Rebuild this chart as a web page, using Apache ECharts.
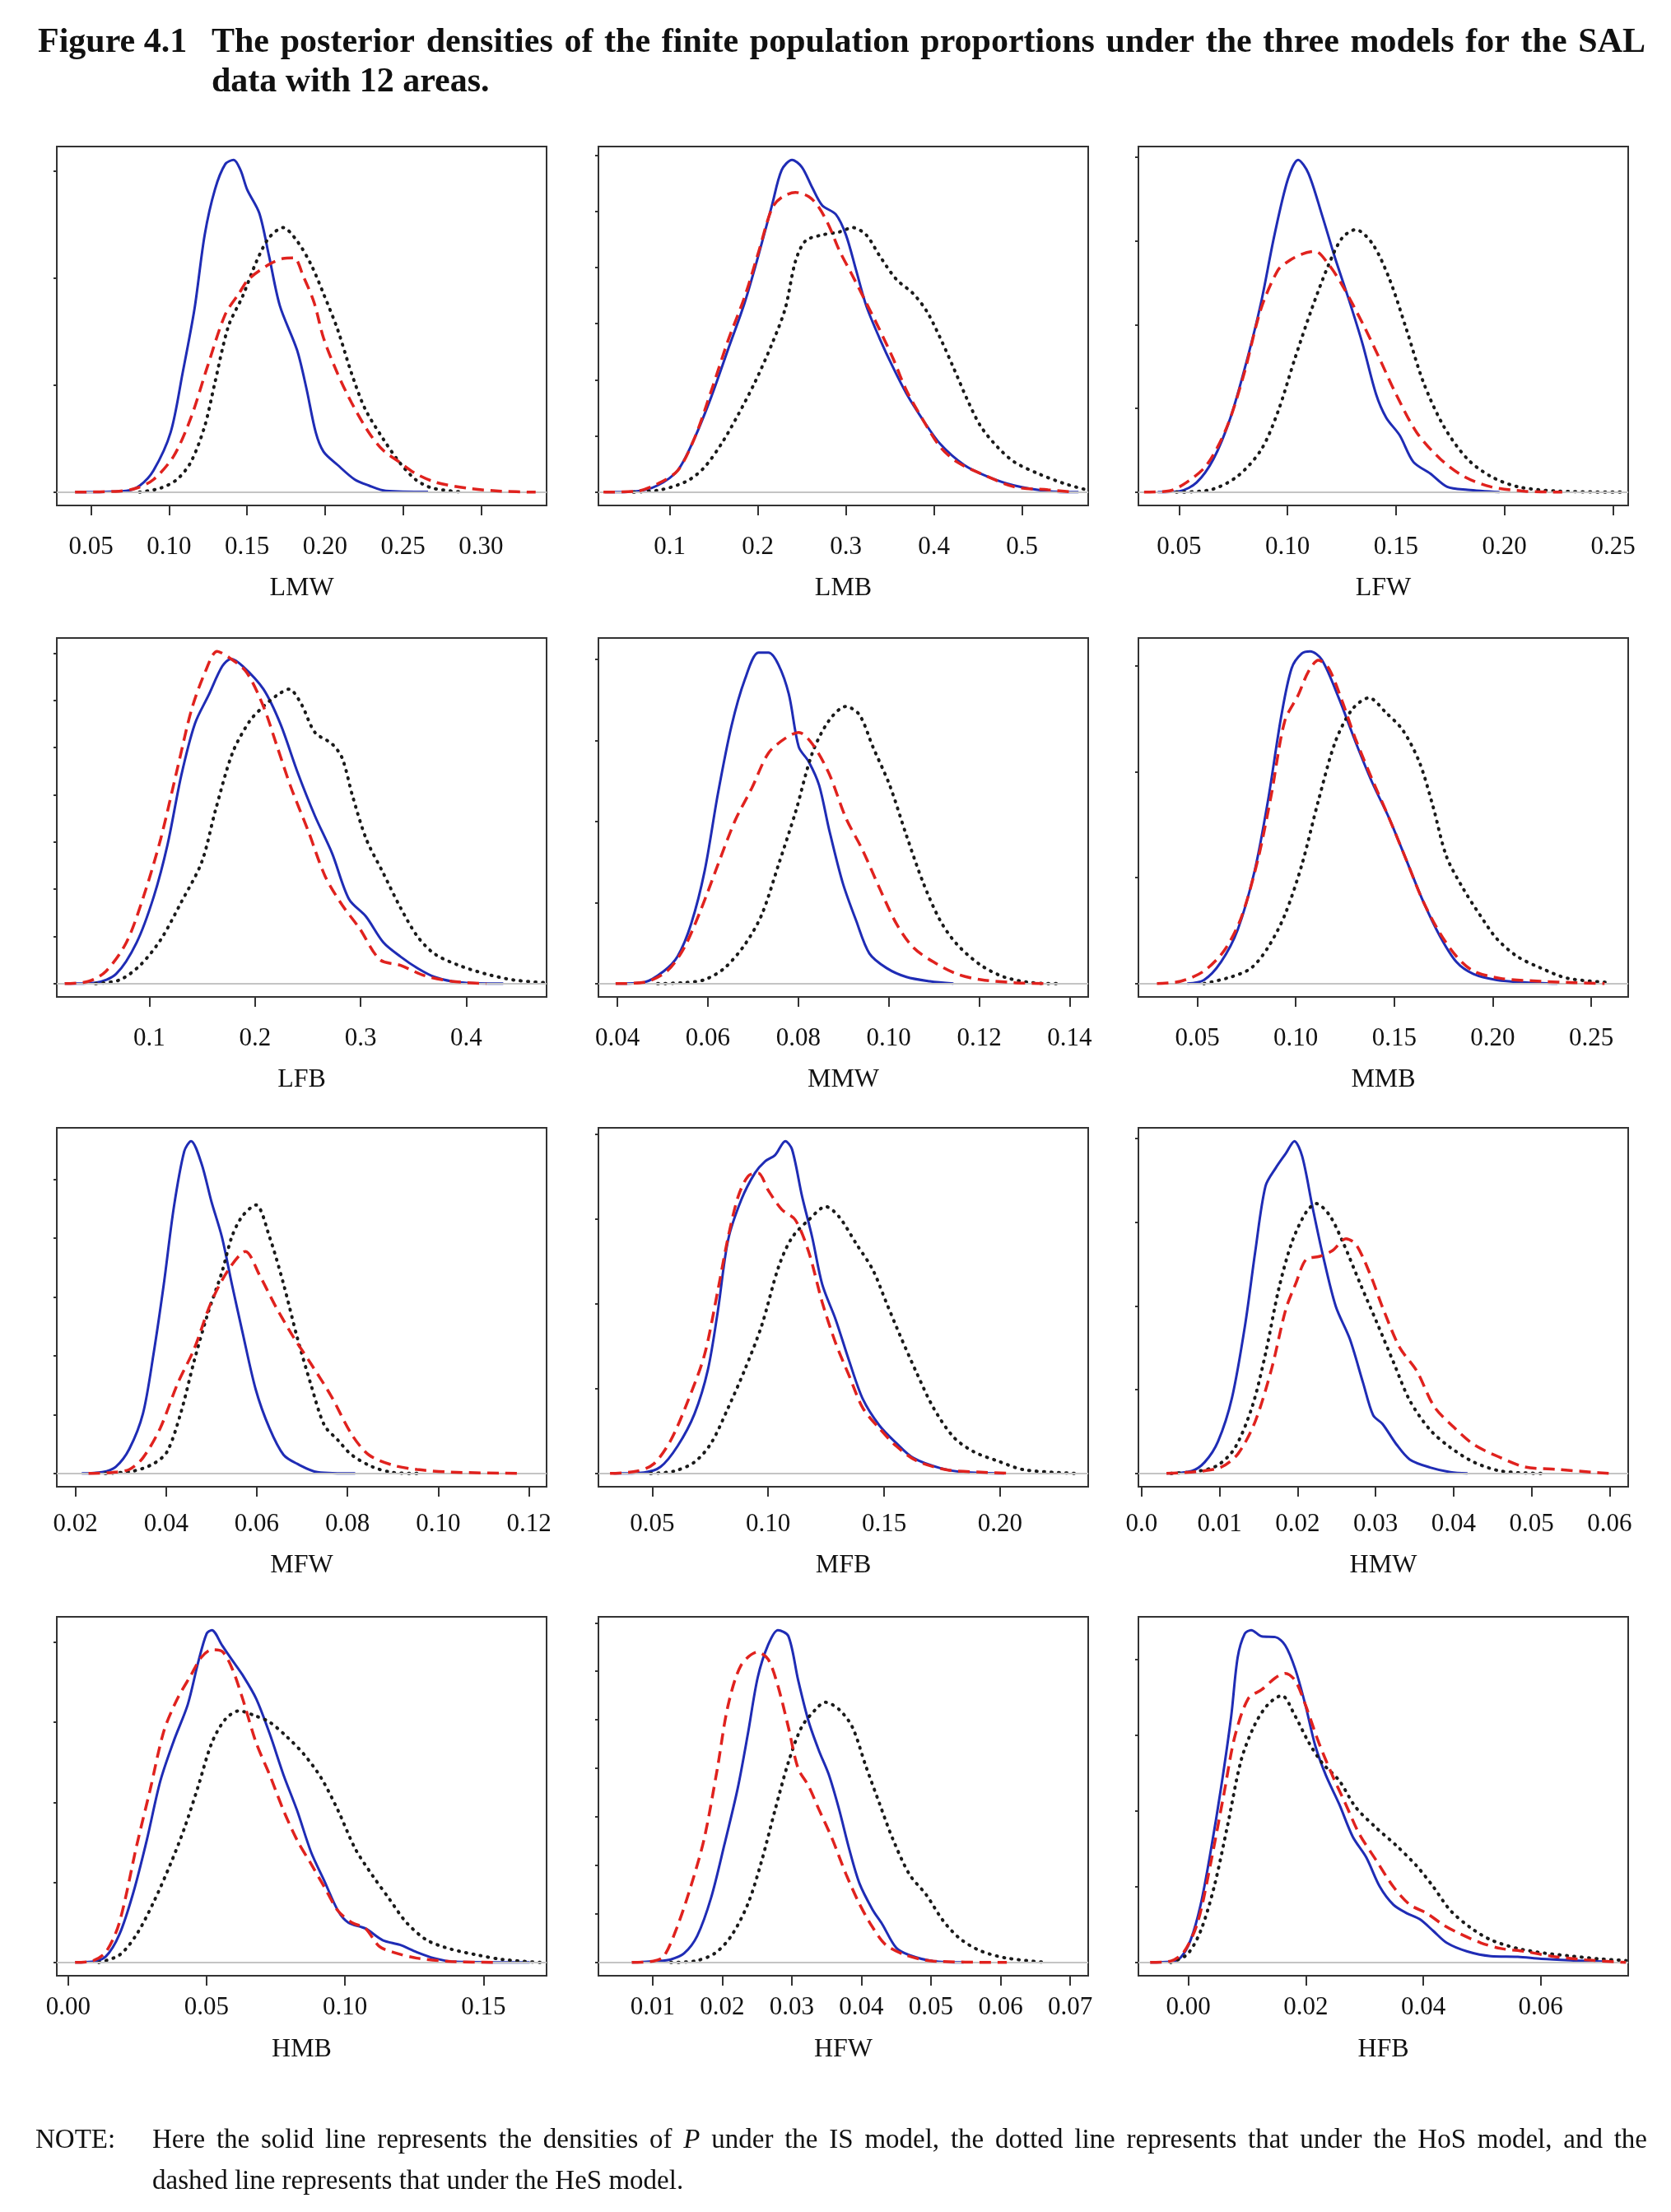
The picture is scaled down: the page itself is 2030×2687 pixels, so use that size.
<!DOCTYPE html>
<html>
<head>
<meta charset="utf-8">
<script src="https://cdn.jsdelivr.net/npm/echarts@6/dist/echarts.min.js"></script>
<style>
html, body { margin: 0; padding: 0; background: #fff; }
#main { width: 2030px; height: 2687px; }
</style>
</head>
<body>
<div id="main"></div>
<script>
// panel titles (x axis names)
const panelNames = ['LMW', 'LMB', 'LFW', 'LFB', 'MMW', 'MMB', 'MFW', 'MFB', 'HMW', 'HMB', 'HFW', 'HFB'];

// x tick labels per panel
const xTickLabels = [
    ['0.05', '0.10', '0.15', '0.20', '0.25', '0.30'],
    ['0.1', '0.2', '0.3', '0.4', '0.5'],
    ['0.05', '0.10', '0.15', '0.20', '0.25'],
    ['0.1', '0.2', '0.3', '0.4'],
    ['0.04', '0.06', '0.08', '0.10', '0.12', '0.14'],
    ['0.05', '0.10', '0.15', '0.20', '0.25'],
    ['0.02', '0.04', '0.06', '0.08', '0.10', '0.12'],
    ['0.05', '0.10', '0.15', '0.20'],
    ['0.0', '0.01', '0.02', '0.03', '0.04', '0.05', '0.06'],
    ['0.00', '0.05', '0.10', '0.15'],
    ['0.01', '0.02', '0.03', '0.04', '0.05', '0.06', '0.07'],
    ['0.00', '0.02', '0.04', '0.06']
];

// x axis range per panel
const xMins = [0.028, 0.019, 0.0313, 0.0124, 0.0358, 0.0201, 0.0159, 0.0268, -0.0004, -0.0041, 0.0022, -0.0085];
const xMaxs = [0.342, 0.575, 0.257, 0.476, 0.1441, 0.2688, 0.1239, 0.238, 0.0624, 0.1728, 0.0726, 0.0749];

// spacing of the unlabeled density ticks (tallest peak = 100)
const yTickSteps = [32.2, 16.9, 25.2, 14.2, 24.4, 31.9, 17.7, 25.5, 25.2, 24.1, 14.6, 22.8];

// densities: IS (solid), HoS (dotted), HeS (dashed)
const lmwIS = [[0.0397,0],[0.0725,0.4],[0.0813,2],[0.090,6.5],[0.101,18],[0.1086,35.7],[0.1163,55.2],[0.1228,77.4],[0.1294,91.1],[0.136,98.7],[0.1414,100],[0.1458,96.9],[0.150,91.1],[0.1578,84],[0.164,71.2],[0.171,56.1],[0.182,42.8],[0.188,31.3],[0.194,18],[0.199,12.2],[0.208,8.2],[0.219,3.8],[0.228,2],[0.239,0.4],[0.266,0.1]];
const lmwHoS = [[0.081,0],[0.0944,1.2],[0.105,3.8],[0.114,9.1],[0.1228,19.8],[0.129,32.2],[0.138,49.9],[0.147,58.8],[0.156,69.4],[0.164,76.5],[0.173,79.6],[0.182,75.6],[0.191,68.5],[0.199,59.7],[0.208,49],[0.217,35.7],[0.2256,25.1],[0.237,16.2],[0.2475,9.1],[0.258,3.8],[0.269,1.2],[0.289,0]];
const lmwHeS = [[0.0397,0],[0.068,0.3],[0.079,1.2],[0.090,3.8],[0.103,10.9],[0.114,22.4],[0.125,38.4],[0.136,53.5],[0.1447,59.7],[0.151,64.1],[0.164,68.5],[0.173,70.3],[0.180,70.5],[0.186,65],[0.193,57],[0.199,46.4],[0.208,35.7],[0.217,26.9],[0.228,18],[0.237,12.7],[0.2475,9.1],[0.258,5.6],[0.2715,2.9],[0.291,1.2],[0.313,0.3],[0.335,0]];

const lmbIS = [[0.0266,0],[0.0629,0.3],[0.0859,2],[0.1088,6.5],[0.128,16.2],[0.147,28.6],[0.166,42.8],[0.185,57],[0.2006,71.2],[0.216,86.3],[0.227,96.9],[0.2388,100],[0.250,97.8],[0.2618,91.6],[0.273,86.3],[0.2885,83.6],[0.300,77.4],[0.3115,66.8],[0.323,56.1],[0.338,46.4],[0.3535,37.5],[0.369,29.5],[0.388,21.5],[0.407,14.5],[0.434,8.2],[0.4606,4.7],[0.491,2],[0.5295,0.3],[0.564,0]];
const lmbHoS = [[0.059,0],[0.0897,0.7],[0.120,3.4],[0.139,7.4],[0.1585,14.5],[0.1776,23.3],[0.1967,33.1],[0.216,44.6],[0.231,55.2],[0.2426,69.4],[0.254,75.6],[0.273,77.4],[0.2923,78.3],[0.3077,79.6],[0.323,77.4],[0.338,71.2],[0.357,64.1],[0.3765,59.7],[0.392,54.3],[0.407,46.4],[0.422,37.5],[0.438,27.7],[0.453,19.8],[0.472,13.6],[0.491,9.1],[0.518,5.6],[0.549,2.5],[0.573,0.7]];
const lmbHeS = [[0.0247,0],[0.063,0.3],[0.086,2.5],[0.109,6.5],[0.128,16.2],[0.147,30.4],[0.166,45.5],[0.185,58.8],[0.2006,72.1],[0.216,85.4],[0.227,88.7],[0.2426,90.2],[0.258,88.9],[0.269,85.8],[0.281,80],[0.292,73],[0.3077,65],[0.323,57],[0.338,49],[0.3535,40.2],[0.369,30.4],[0.388,21.5],[0.407,13.6],[0.426,9.1],[0.453,5.6],[0.491,1.6],[0.5295,0.7],[0.560,0]];

const lfwIS = [[0.0402,0],[0.0503,0.3],[0.0581,2.9],[0.0659,10],[0.0737,22.4],[0.0815,40.2],[0.0878,57],[0.094,77.4],[0.1002,94.2],[0.1049,100],[0.1096,96],[0.1158,83.6],[0.122,70.3],[0.1283,57.9],[0.1346,44.6],[0.1408,29.5],[0.1455,22.4],[0.1517,17.1],[0.158,9.1],[0.1658,5.6],[0.1736,1.6],[0.183,0.7],[0.1977,0]];
const lfwHoS = [[0.0488,0],[0.0644,0.7],[0.0768,4.7],[0.0878,12.7],[0.0956,24.2],[0.1034,40.2],[0.1112,55.2],[0.119,68.5],[0.1252,76.5],[0.1314,79],[0.1392,74.7],[0.147,64.1],[0.1548,49],[0.1626,33.1],[0.172,19.8],[0.1829,10],[0.1938,4.7],[0.2063,1.6],[0.225,0.3],[0.2562,0]];
const lfwHeS = [[0.0339,0],[0.0456,0.4],[0.0534,2.9],[0.0628,8.2],[0.0722,19.8],[0.080,35.7],[0.0878,55.2],[0.0956,66.8],[0.1002,69.4],[0.1065,71.6],[0.1127,72.5],[0.119,68.5],[0.1252,62.3],[0.1346,50.8],[0.1424,40.2],[0.150,29.5],[0.1595,18],[0.1704,10],[0.1814,4.7],[0.1938,1.6],[0.2094,0.3],[0.2266,0]];

const lfbIS = [[0.0199,0],[0.0491,0.3],[0.0685,2.9],[0.088,12.4],[0.1042,26.2],[0.1172,41.8],[0.1302,62.6],[0.1431,78.2],[0.1561,86.8],[0.169,95.5],[0.1772,97.7],[0.1885,95.5],[0.208,88.6],[0.224,78.2],[0.2404,63.5],[0.2567,50.5],[0.273,39.2],[0.289,25.4],[0.305,20.2],[0.3215,12.4],[0.3378,8.1],[0.354,4.6],[0.370,2],[0.3929,0.4],[0.435,0]];
const lfbHoS = [[0.0491,0],[0.0718,1.1],[0.0912,5.5],[0.1107,13.2],[0.1302,24.5],[0.1496,36.6],[0.1626,52.2],[0.1788,69.5],[0.195,79],[0.208,83.4],[0.221,86.8],[0.2323,88.6],[0.2437,84.2],[0.2567,75.6],[0.273,72.1],[0.2826,67.8],[0.2923,56.5],[0.3053,43.5],[0.3215,33.2],[0.3378,22.8],[0.354,14.1],[0.3702,8.9],[0.393,5.5],[0.4188,2.9],[0.4448,1.1],[0.474,0.3]];
const lfbHeS = [[0.0199,0],[0.0426,0.7],[0.0588,3.7],[0.0783,12.4],[0.0945,26.2],[0.1107,43.5],[0.1269,65.2],[0.140,82.5],[0.1529,93.8],[0.1642,100],[0.1756,98.1],[0.1918,93.8],[0.208,83.4],[0.221,71.3],[0.234,59.1],[0.2502,46.1],[0.2664,32.3],[0.2826,23.6],[0.2988,16.7],[0.3183,7.2],[0.3378,5.5],[0.3605,2.4],[0.3864,0.7],[0.4188,0]];

const mmwIS = [[0.0396,0],[0.0459,0.4],[0.0503,3.8],[0.0533,8.2],[0.0563,18],[0.0593,34],[0.0622,57],[0.0652,77.4],[0.0682,91.6],[0.0712,99.6],[0.0734,99.6],[0.0756,96],[0.0779,87.1],[0.0801,71.2],[0.0823,66.8],[0.0846,59.7],[0.0868,46.4],[0.0898,30.4],[0.0928,18.9],[0.0957,9.1],[0.0995,4.7],[0.1039,2],[0.1091,0.7],[0.1143,0]];
const mmwHoS = [[0.0489,0],[0.0548,0.3],[0.0593,1.2],[0.0637,4.7],[0.0682,11.8],[0.0719,20.7],[0.0756,35.7],[0.0794,51.7],[0.0831,69.4],[0.0868,79.2],[0.0905,83.4],[0.0935,80.9],[0.0965,71.2],[0.1002,59.7],[0.1039,44.6],[0.1076,30.4],[0.1114,18.9],[0.1151,11.8],[0.1203,5.6],[0.1255,2],[0.1315,0.3],[0.1381,0]];
const mmwHeS = [[0.0396,0],[0.0459,0.4],[0.051,3.8],[0.0548,10.9],[0.0585,22.4],[0.0622,35.7],[0.066,49],[0.0697,58.8],[0.0734,69.4],[0.0771,73.8],[0.0801,75.6],[0.0831,72.1],[0.0868,63.2],[0.0905,49.9],[0.0942,40.2],[0.098,28.6],[0.1017,18],[0.1054,10.9],[0.1099,6.5],[0.1151,2.9],[0.1203,1.2],[0.1277,0.3],[0.1352,0]];

const mmbIS = [[0.0449,0],[0.0534,1.1],[0.062,6.5],[0.0705,16.2],[0.0791,33.9],[0.0859,55.1],[0.0927,80.7],[0.0979,94.9],[0.103,99.3],[0.1073,100],[0.1132,97.5],[0.1218,86],[0.1303,72.8],[0.1389,60.4],[0.1474,49.8],[0.156,37.4],[0.1645,25],[0.1731,14.4],[0.1816,6.5],[0.1902,2.9],[0.2021,1.1],[0.2158,0.4],[0.2329,0]];
const mmbHoS = [[0.0534,0],[0.0671,2],[0.0774,4.7],[0.0859,10.9],[0.0944,20.6],[0.103,35.6],[0.1115,55.1],[0.1201,72.8],[0.1286,82.5],[0.1372,86],[0.1457,81.6],[0.1543,76.3],[0.1628,66.6],[0.1697,53.3],[0.1765,38.3],[0.185,28.6],[0.1936,20.6],[0.2021,13.5],[0.2124,8.2],[0.2244,4.7],[0.2381,1.6],[0.2603,0.3]];
const mmbHeS = [[0.0295,0],[0.0415,0.7],[0.0534,3.8],[0.0637,10],[0.0722,19.7],[0.0808,37.4],[0.0876,56.9],[0.0944,79],[0.1013,86.9],[0.1064,93.9],[0.1115,97.3],[0.1167,94.9],[0.1235,85.1],[0.1303,73.7],[0.1389,61.3],[0.1474,49.8],[0.156,37.4],[0.1645,25],[0.1731,15.3],[0.1816,8.2],[0.1902,3.8],[0.2038,1.6],[0.2244,0.7],[0.2415,0.3],[0.2568,0]];

const mfwIS = [[0.0214,0],[0.0259,0.4],[0.0289,2],[0.0319,7.4],[0.0349,18],[0.0372,35.7],[0.0395,57],[0.0417,80],[0.044,96.9],[0.0455,100],[0.0478,93.3],[0.050,81.8],[0.0523,71.2],[0.0545,57],[0.0568,42.8],[0.0598,25.1],[0.0628,13.6],[0.0659,5.6],[0.0689,2.9],[0.0734,0.4],[0.0817,0]];
const mfwHoS = [[0.0266,0],[0.0327,0.7],[0.0372,2.9],[0.0402,6.5],[0.0432,18],[0.0462,33.9],[0.0492,48.1],[0.0523,60.5],[0.0545,71.2],[0.0568,77.4],[0.0598,80.8],[0.0628,71.2],[0.0659,57],[0.0689,41],[0.0719,26.9],[0.0749,14.5],[0.0779,10],[0.0809,5.6],[0.0855,2],[0.090,0.3],[0.0953,0]];
const mfwHeS = [[0.0229,0],[0.0281,0.3],[0.0319,1.2],[0.0349,4.7],[0.0387,13.6],[0.0425,26.9],[0.0462,37.5],[0.050,51.7],[0.0538,61.4],[0.0575,66.8],[0.0606,59.7],[0.0643,49.9],[0.0681,41],[0.0719,33.1],[0.0764,23.3],[0.0809,11.8],[0.0847,5.6],[0.090,2.5],[0.0953,1.2],[0.1028,0.4],[0.1186,0]];

const mfbIS = [[0.0333,0],[0.0464,0.3],[0.0536,2],[0.0609,8.2],[0.0682,17.9],[0.074,31.2],[0.0783,48.9],[0.0827,70.2],[0.0885,82.5],[0.0943,90.4],[0.0986,93.9],[0.103,95.8],[0.1074,100],[0.1103,97.5],[0.1146,83.4],[0.119,71],[0.1233,56.9],[0.1291,46.3],[0.1349,33.9],[0.1408,22.4],[0.148,14.4],[0.1553,9.1],[0.1625,4.7],[0.1742,1.6],[0.1843,0.4],[0.2018,0]];
const mfbHoS = [[0.0493,0],[0.0594,0.7],[0.0682,3.4],[0.0754,9.1],[0.0827,19.7],[0.0899,31.2],[0.0972,44.5],[0.1045,62.2],[0.1103,71],[0.1175,76.3],[0.1248,80.3],[0.1306,77.2],[0.1379,69.2],[0.1451,61.3],[0.1509,51.5],[0.1567,41.8],[0.164,30.3],[0.1713,19.7],[0.180,10.9],[0.1887,6.5],[0.1988,3.8],[0.2104,1.1],[0.2337,0]];
const mfbHeS = [[0.0318,0],[0.0435,0.7],[0.0507,2.9],[0.058,10],[0.0652,21.5],[0.0725,35.6],[0.0783,55.1],[0.0827,71],[0.0871,83.4],[0.0914,89.5],[0.0957,90.4],[0.1001,85.1],[0.1059,79.4],[0.1117,76.3],[0.1175,66.6],[0.1233,51.5],[0.1291,39.2],[0.1349,29.4],[0.1408,19.7],[0.148,13.5],[0.1553,8.2],[0.164,3.8],[0.1771,1.1],[0.1916,0.4],[0.2047,0]];

const hmwIS = [[0.0032,0],[0.0064,0.7],[0.0081,3.4],[0.0098,9.6],[0.0116,22.8],[0.0133,45],[0.0146,67.1],[0.0159,86.5],[0.0172,91.9],[0.0185,96.3],[0.0196,100],[0.0206,95.4],[0.0219,80.4],[0.0232,66.2],[0.0249,50.3],[0.0267,40.5],[0.0284,27.3],[0.0297,17.5],[0.0309,14.9],[0.0327,8.7],[0.0344,4.2],[0.037,1.8],[0.0396,0.4],[0.0418,0]];
const hmwHoS = [[0.0038,0],[0.0073,0.7],[0.0098,2.5],[0.012,7.8],[0.0142,20.2],[0.0159,36.1],[0.0176,55.6],[0.0193,69.7],[0.0211,78.6],[0.0224,81.2],[0.0241,77.7],[0.0258,69.7],[0.028,57.3],[0.0301,45.8],[0.0323,33.5],[0.0344,21.9],[0.037,13.1],[0.0396,7.8],[0.0426,3.4],[0.0461,0.7],[0.0513,0]];
const hmwHeS = [[0.0032,0],[0.0077,0.7],[0.0103,2],[0.0124,6],[0.0146,15.8],[0.0167,31.7],[0.0185,49.4],[0.0198,57.3],[0.0211,64.4],[0.0228,65.3],[0.0245,67.1],[0.0262,70.6],[0.0275,68.9],[0.0293,60],[0.031,49.4],[0.0331,37.9],[0.0353,30.8],[0.0375,20.2],[0.040,14],[0.0426,8.7],[0.0457,5.1],[0.0491,2],[0.0534,1.2],[0.0577,0.4],[0.0599,0]];

const hmbIS = [[0.0025,0],[0.0086,0.2],[0.0136,1.8],[0.0185,8.4],[0.0235,20.9],[0.0284,36.8],[0.0333,54.6],[0.0383,67],[0.0432,77.6],[0.0469,90.1],[0.050,98.9],[0.0519,100],[0.0556,95.4],[0.0593,90.9],[0.063,86.5],[0.0679,79.4],[0.0728,68.8],[0.0778,56.4],[0.0827,45.7],[0.0877,33.3],[0.0926,24.4],[0.0975,15.5],[0.1012,12],[0.1074,10.2],[0.1136,6.7],[0.1198,5.3],[0.1259,3.1],[0.1321,1.3],[0.1395,0.2],[0.1667,0]];
const hmbHoS = [[0.0111,0],[0.0185,2.2],[0.0247,8.4],[0.0309,18.2],[0.037,29.7],[0.042,40.4],[0.0469,52.8],[0.0519,66.1],[0.0568,73.2],[0.0617,75.7],[0.0679,74.1],[0.0728,72.3],[0.079,67.9],[0.0852,62.6],[0.0914,55.5],[0.0975,45.7],[0.1037,34.2],[0.1099,26.2],[0.116,19.1],[0.1222,12],[0.1296,6.7],[0.1383,4],[0.1481,2.2],[0.1568,0.9],[0.1704,0]];
const hmbHeS = [[0.0025,0],[0.0086,0.4],[0.0136,3.1],[0.0185,12],[0.0247,35],[0.0296,51.9],[0.0346,69.7],[0.0395,79.4],[0.0444,86.5],[0.0481,91.8],[0.0519,94.1],[0.0556,93.6],[0.0593,88.3],[0.063,79.4],[0.0679,66.1],[0.0728,56.4],[0.0778,45.7],[0.0827,36.8],[0.0877,29.7],[0.0926,22.6],[0.0975,15.5],[0.1025,12],[0.1074,10.2],[0.1123,4.9],[0.1173,3.1],[0.1259,1.3],[0.1383,0.3],[0.1556,0]];

const hfwIS = [[0.007,0],[0.0106,0.4],[0.0126,0.9],[0.0145,2.7],[0.0164,8],[0.0184,19.5],[0.0203,35.4],[0.0222,52.2],[0.0237,69],[0.0251,85.8],[0.0266,95.6],[0.028,100],[0.0295,98.2],[0.0309,85],[0.0324,72.6],[0.0339,63.7],[0.0353,56.6],[0.0368,46],[0.0382,34.5],[0.0397,23.9],[0.0416,15.9],[0.043,11.5],[0.045,4.4],[0.0469,2.2],[0.0503,0.4],[0.0547,0]];
const hfwHoS = [[0.0126,0],[0.016,0.4],[0.0189,2.7],[0.0213,8],[0.0237,17.7],[0.0256,30.1],[0.0276,46],[0.0295,60.2],[0.0314,70.8],[0.0334,76.1],[0.0348,78.3],[0.0368,76.1],[0.0387,70.8],[0.0406,59.3],[0.0426,47.8],[0.0445,37.2],[0.0469,26.5],[0.0493,20.4],[0.0518,12.4],[0.0542,7.1],[0.0571,3.5],[0.0609,1.3],[0.0667,0]];
const hfwHeS = [[0.007,0],[0.0101,0.4],[0.0116,1.8],[0.0135,10.6],[0.0155,23],[0.0174,37.2],[0.0193,58.4],[0.0208,77],[0.0227,89.4],[0.0251,93.4],[0.0266,91.2],[0.028,83.2],[0.0295,70.8],[0.0309,58.4],[0.0324,53.1],[0.0339,46],[0.0358,37.2],[0.0378,26.5],[0.0397,17.7],[0.0416,10.6],[0.0435,5.3],[0.0464,2.2],[0.0503,0.4],[0.0609,0]];

const hfbIS = [[-0.0065,0],[-0.003,0.2],[-0.0013,1.5],[0.0004,6.8],[0.0021,17.4],[0.0038,33.4],[0.0056,52.9],[0.0073,74.1],[0.0084,91.8],[0.0096,98.9],[0.0107,100],[0.0125,98.1],[0.0148,97.9],[0.0165,95.4],[0.0182,88.3],[0.0199,77.7],[0.0216,65.3],[0.0234,56.4],[0.0257,47.6],[0.028,37.8],[0.0303,31.6],[0.0326,22.8],[0.0349,17.4],[0.0372,14.8],[0.0394,13],[0.0417,9.5],[0.044,5.9],[0.0475,3.3],[0.0515,1.9],[0.0561,1.7],[0.0601,1.1],[0.0659,0.6],[0.0716,0.2]];
const hfbHoS = [[-0.003,0],[-0.0002,2.4],[0.0021,9.5],[0.0044,22.8],[0.0067,41.4],[0.009,60.9],[0.0113,71.5],[0.0136,77.7],[0.0159,80.3],[0.0182,74.1],[0.0205,66.2],[0.0228,60],[0.0257,54.7],[0.0285,46.7],[0.032,40.5],[0.0354,35.2],[0.0389,29],[0.0417,22.8],[0.0446,15.7],[0.0481,10.4],[0.0515,6.8],[0.0561,4.2],[0.0607,2.8],[0.0653,1.9],[0.0699,1.1],[0.0745,0.6]];
const hfbHeS = [[-0.0065,0],[-0.003,0.4],[-0.0007,3.3],[0.0016,12.1],[0.0038,29.8],[0.0061,51.1],[0.0079,67.9],[0.0102,79.4],[0.0125,82.1],[0.0148,85.6],[0.0165,87],[0.0182,84.8],[0.0199,77.7],[0.0222,66.2],[0.0245,56.4],[0.0268,47.6],[0.0291,38.7],[0.032,30.7],[0.0349,22.8],[0.0377,17.4],[0.0406,14.8],[0.0435,11.2],[0.0463,8.6],[0.0498,5.9],[0.0532,4.2],[0.0573,3.3],[0.0618,1.9],[0.0676,0.8],[0.0745,0]];

const isSeries = [lmwIS, lmbIS, lfwIS, lfbIS, mmwIS, mmbIS, mfwIS, mfbIS, hmwIS, hmbIS, hfwIS, hfbIS];
const hosSeries = [lmwHoS, lmbHoS, lfwHoS, lfbHoS, mmwHoS, mmbHoS, mfwHoS, mfbHoS, hmwHoS, hmbHoS, hfwHoS, hfbHoS];
const hesSeries = [lmwHeS, lmbHeS, lfwHeS, lfbHeS, mmwHeS, mmbHeS, mfwHeS, mfbHeS, hmwHeS, hmbHeS, hfwHeS, hfbHeS];

const titleLine1 = 'The posterior densities of the finite population proportions under the three models for the SAL';
const titleLine2 = 'data with 12 areas.';
const noteLine1 = 'Here the solid line represents the densities of P under the IS model, the dotted line represents that under the HoS model, and the';
const noteLine2 = 'dashed line represents that under the HeS model.';

const serif = 'Liberation Serif, Times New Roman, serif';
const colLeft = [69, 727, 1383];
const rowTop = [178, 775, 1370, 1964];
const boxW = 595;
const boxH = 436;
// label / axis-name distance below each row of boxes (the scanned page drifts a bit)
const rowLabelMargin = [35, 35, 30, 23];
const rowNameGap = [85, 85, 80, 74];

const chart = echarts.init(document.getElementById('main'), null, { renderer: 'canvas' });

const grids = [];
const xAxes = [];
const yAxes = [];
const series = [];

panelNames.forEach(function (name, i) {
    const col = i % 3;
    const row = Math.floor(i / 3);
    grids.push({
        left: colLeft[col],
        top: rowTop[row],
        width: boxW,
        height: boxH,
        show: true,
        borderColor: '#333',
        borderWidth: 2
    });

    const tickVals = xTickLabels[i].map(function (s) { return parseFloat(s); });
    xAxes.push({
        type: 'value',
        gridIndex: i,
        min: xMins[i],
        max: xMaxs[i],
        name: name,
        nameLocation: 'middle',
        nameGap: rowNameGap[row],
        nameTextStyle: { fontFamily: serif, fontSize: 32, color: '#111' },
        axisLine: { show: true, onZero: false, lineStyle: { color: '#333', width: 2 } },
        axisTick: { show: true, length: 12, customValues: tickVals, lineStyle: { color: '#333', width: 2 } },
        axisLabel: {
            show: true,
            customValues: tickVals,
            margin: rowLabelMargin[row],
            fontFamily: serif,
            fontSize: 31,
            color: '#111',
            formatter: function (v) {
                for (let k = 0; k < tickVals.length; k++) {
                    if (Math.abs(tickVals[k] - v) < 1e-9) return xTickLabels[i][k];
                }
                return '';
            }
        },
        splitLine: { show: false }
    });

    const yTicks = [];
    for (let t = 0; t <= 103; t += yTickSteps[i]) yTicks.push(t);
    yAxes.push({
        type: 'value',
        gridIndex: i,
        min: -4,
        max: 104,
        axisLine: { show: true, onZero: false, lineStyle: { color: '#333', width: 2 } },
        axisTick: { show: true, length: 4, customValues: yTicks, lineStyle: { color: '#333', width: 2 } },
        axisLabel: { show: false },
        splitLine: { show: false }
    });

    series.push({
        name: 'IS',
        type: 'line',
        xAxisIndex: i,
        yAxisIndex: i,
        data: isSeries[i],
        showSymbol: false,
        smooth: 0.3,
        lineStyle: { color: '#1f2cb5', width: 3 },
        markLine: {
            silent: true,
            symbol: 'none',
            label: { show: false },
            lineStyle: { color: '#c4c4c4', type: 'solid', width: 2 },
            data: [{ yAxis: 0 }]
        },
        z: 3
    });
    series.push({
        name: 'HoS',
        type: 'line',
        xAxisIndex: i,
        yAxisIndex: i,
        data: hosSeries[i],
        showSymbol: false,
        smooth: 0.3,
        lineStyle: { color: '#1a1a1a', width: 4, type: [1, 8], cap: 'round' },
        z: 4
    });
    series.push({
        name: 'HeS',
        type: 'line',
        xAxisIndex: i,
        yAxisIndex: i,
        data: hesSeries[i],
        showSymbol: false,
        smooth: 0.3,
        lineStyle: { color: '#e0221e', width: 3.5, type: [14, 8] },
        z: 5
    });
});

// spread the words of a line so it fills [left, right] like the justified caption
const measureCtx = document.createElement('canvas').getContext('2d');
function justifyLine(text, left, right, top, font, italicWords) {
    const words = text.split(' ');
    const fonts = words.map(function (w) {
        return italicWords && italicWords.indexOf(w) >= 0 ? 'italic ' + font : font;
    });
    const widths = words.map(function (w, k) {
        measureCtx.font = fonts[k];
        return measureCtx.measureText(w).width;
    });
    const total = widths.reduce(function (a, b) { return a + b; }, 0);
    const gap = (right - left - total) / (words.length - 1);
    const out = [];
    let x = left;
    words.forEach(function (w, k) {
        out.push({ type: 'text', left: x, top: top, style: { text: w, font: fonts[k], fill: '#111' } });
        x += widths[k] + gap;
    });
    return out;
}

const titleFont = 'bold 42px ' + serif;
const noteFont = '33px ' + serif;

const graphics = [
    { type: 'text', left: 46, top: 31, style: { text: 'Figure 4.1', font: titleFont, fill: '#111' } },
    { type: 'text', left: 257, top: 79, style: { text: titleLine2, font: titleFont, fill: '#111' } },
    { type: 'text', left: 43, top: 2584, style: { text: 'NOTE:', font: noteFont, fill: '#111' } },
    { type: 'text', left: 185, top: 2634, style: { text: noteLine2, font: noteFont, fill: '#111' } }
]
    .concat(justifyLine(titleLine1, 257, 1999, 31, titleFont))
    .concat(justifyLine(noteLine1, 185, 2001, 2584, noteFont, ['P']));

const option = {
    backgroundColor: '#fff',
    animation: false,
    grid: grids,
    xAxis: xAxes,
    yAxis: yAxes,
    series: series,
    graphic: graphics
};

chart.setOption(option);
</script>
</body>
</html>
